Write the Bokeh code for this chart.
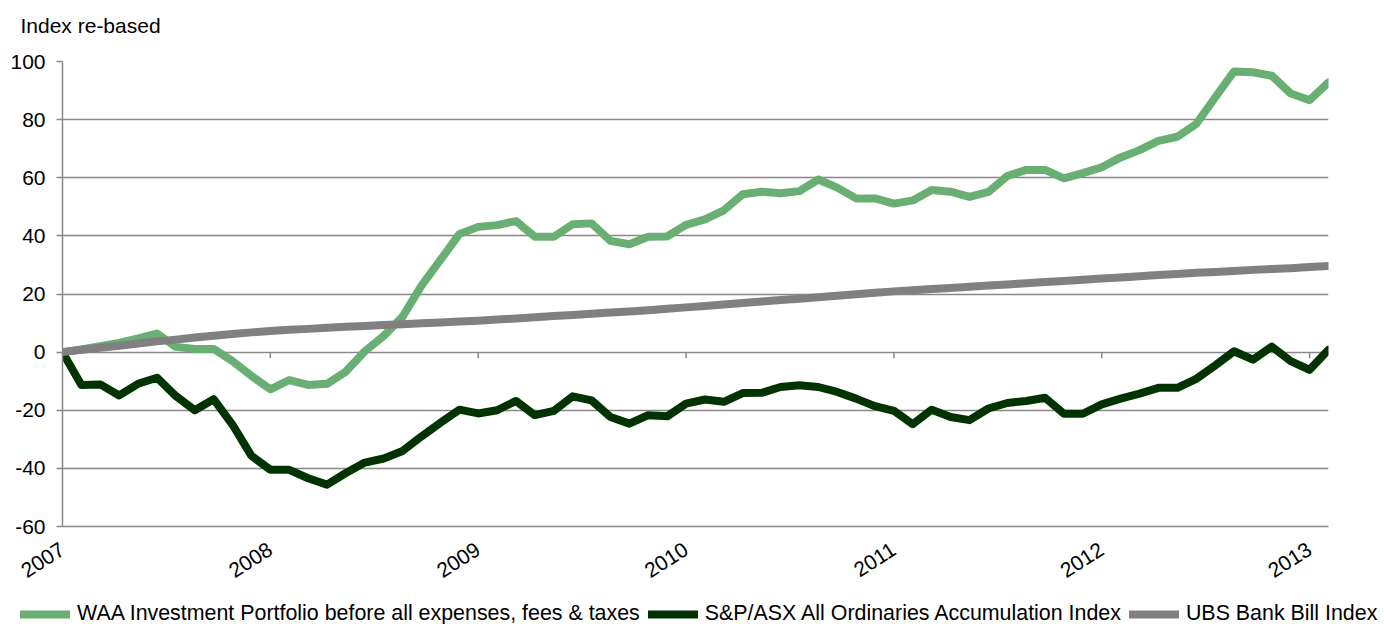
from bokeh.plotting import figure
from bokeh.models import Range1d, FixedTicker, Legend, LegendItem, ColumnDataSource, Label
from bokeh.embed import file_html
from bokeh.resources import INLINE

year_labels = ["2007", "2008", "2009", "2010", "2011", "2012", "2013"]
year_ticks = [0, 11, 22, 33, 44, 55, 66]
y_ticks = [-60, -40, -20, 0, 20, 40, 60, 80, 100]
y_labels = ["-60", "-40", "-20", "0", "20", "40", "60", "80", "100"]

waa = [0.0, 0.9, 2.0, 3.2, 4.7, 6.4, 1.8, 1.1, 1.1, -3.1, -8.2, -12.8, -9.6, -11.3, -10.9, -6.7,
       0.3, 5.6, 12.2, 22.9, 31.7, 40.6, 43.1, 43.7, 45.1, 39.7, 39.7, 44.0, 44.3, 38.3, 37.1, 39.7,
       39.8, 43.8, 45.7, 48.8, 54.3, 55.2, 54.7, 55.4, 59.4, 56.6, 52.9, 52.9, 51.1, 52.2, 55.8, 55.2,
       53.4, 55.1, 60.6, 62.7, 62.7, 59.8, 61.6, 63.6, 67.0, 69.5, 72.7, 74.1, 78.5, 87.6, 96.6, 96.3,
       95.1, 89.0, 86.7, 92.8]
asx = [0.0, -11.3, -11.1, -14.9, -10.9, -8.8, -15.1, -20.0, -16.2, -25.0, -35.7, -40.5, -40.5, -43.4,
       -45.6, -41.6, -38.0, -36.6, -34.0, -29.0, -24.3, -19.8, -21.1, -20.0, -16.8, -21.7, -20.2, -15.2,
       -16.6, -22.3, -24.6, -21.7, -22.1, -17.7, -16.3, -17.1, -14.1, -14.0, -12.0, -11.4, -12.0, -13.7,
       -16.0, -18.6, -20.2, -24.8, -19.8, -22.3, -23.4, -19.4, -17.5, -16.8, -15.7, -21.2, -21.2, -18.0,
       -16.0, -14.3, -12.3, -12.3, -9.2, -4.6, 0.3, -2.6, 1.9, -3.1, -6.1, 0.8]
ubs = [0.0, 0.8, 1.5, 2.2, 3.0, 3.7, 4.3, 5.0, 5.6, 6.2, 6.8, 7.3, 7.7, 8.0, 8.4, 8.7, 9.0, 9.3,
       9.6, 9.9, 10.2, 10.5, 10.8, 11.2, 11.6, 12.0, 12.4, 12.8, 13.2, 13.6, 14.0, 14.4, 14.9, 15.4,
       15.9, 16.4, 16.9, 17.4, 17.9, 18.4, 18.9, 19.4, 19.9, 20.4, 20.9, 21.3, 21.7, 22.1, 22.5, 22.9,
       23.3, 23.7, 24.1, 24.5, 24.9, 25.3, 25.7, 26.1, 26.5, 26.9, 27.3, 27.6, 27.9, 28.3, 28.6, 28.9,
       29.3, 29.6]

title_text = "Index re-based"
series_names = ["WAA Investment Portfolio before all expenses, fees & taxes",
                "S&P/ASX All Ordinaries Accumulation Index",
                "UBS Bank Bill Index"]
series_colors = ["#69AF74", "#003300", "#808080"]

idx = list(range(len(waa)))
src = ColumnDataSource(dict(x=idx, waa=waa, asx=asx, ubs=ubs))

FONT = "Liberation Sans"
GRID = "#888888"
LW = 8
W = 1376


def bare(height, width=W):
    f = figure(width=width, height=height, output_backend="svg", toolbar_location=None,
               x_range=Range1d(0, width), y_range=Range1d(height, 0),
               x_axis_location=None, y_axis_location=None,
               min_border_left=0, min_border_right=0, min_border_top=0, min_border_bottom=0)
    f.outline_line_color = None
    f.xgrid.visible = False
    f.ygrid.visible = False
    return f


# header with the axis title
hdr = bare(40)
hdr.add_layout(Label(x=20, y=25, text=title_text, text_baseline="middle", text_align="left",
                     text_font=FONT, text_font_size="21px", text_color="#000000"))

# main chart
p = figure(width=W, height=548, output_backend="svg", toolbar_location=None,
           x_range=Range1d(0, len(waa) - 1), y_range=Range1d(-60, 100),
           min_border_left=62, min_border_right=48, min_border_top=21, min_border_bottom=62)
p.outline_line_color = None
p.background_fill_color = "white"
p.border_fill_color = "white"

p.xgrid.visible = False
p.ygrid.ticker = FixedTicker(ticks=y_ticks)
p.ygrid.grid_line_color = GRID
p.ygrid.grid_line_width = 1.5

p.yaxis.ticker = FixedTicker(ticks=y_ticks)
p.yaxis.major_label_overrides = {t: l for t, l in zip(y_ticks, y_labels)}
p.yaxis.axis_line_color = GRID
p.yaxis.axis_line_width = 1.5
p.yaxis.major_tick_line_color = GRID
p.yaxis.major_tick_line_width = 1.5
p.yaxis.major_tick_out = 6
p.yaxis.major_tick_in = 0
p.yaxis.minor_tick_line_color = None
p.yaxis.major_label_standoff = 11
p.yaxis.major_label_text_font = FONT
p.yaxis.major_label_text_font_size = "21px"
p.yaxis.major_label_text_color = "#000000"

p.xaxis.ticker = FixedTicker(ticks=year_ticks)
p.xaxis.major_label_overrides = {t: l for t, l in zip(year_ticks, year_labels)}
p.xaxis.axis_line_color = GRID
p.xaxis.axis_line_width = 1.5
p.xaxis.major_tick_line_color = None
p.xaxis.minor_tick_line_color = None
p.xaxis.major_label_orientation = 0.57
p.xaxis.major_label_standoff = 15
p.xaxis.major_label_text_font = FONT
p.xaxis.major_label_text_font_size = "21px"
p.xaxis.major_label_text_color = "#000000"

# zero line tick marks (category axis crosses at 0)
p.segment(x0=year_ticks, y0=[0] * len(year_ticks), x1=year_ticks, y1=[-2.1] * len(year_ticks),
          line_color=GRID, line_width=1.5)

p.line("x", "waa", source=src, line_color=series_colors[0], line_width=LW,
       line_join="round", line_cap="round")
p.line("x", "asx", source=src, line_color=series_colors[1], line_width=LW,
       line_join="round", line_cap="round")
p.line("x", "ubs", source=src, line_color=series_colors[2], line_width=LW,
       line_join="round", line_cap="round")

# legend strip (full window width)
lg = bare(36, 1384)
proxy = ColumnDataSource(dict(x=[float("nan")], y=[float("nan")]))
rs = [lg.line("x", "y", source=proxy, line_color=c, line_width=LW, line_cap="round")
      for c in series_colors]
legend = Legend(items=[LegendItem(label=n, renderers=[r]) for n, r in zip(series_names, rs)],
                orientation="horizontal", location=(20, -2),
                glyph_width=50, glyph_height=20, label_standoff=7, spacing=8,
                padding=0, margin=0, border_line_alpha=0, background_fill_alpha=0,
                label_text_font=FONT, label_text_font_size="21.4px", label_text_color="#000000")
lg.add_layout(legend, "center")

open("out.html", "w").write(file_html([hdr, p, lg], INLINE))
